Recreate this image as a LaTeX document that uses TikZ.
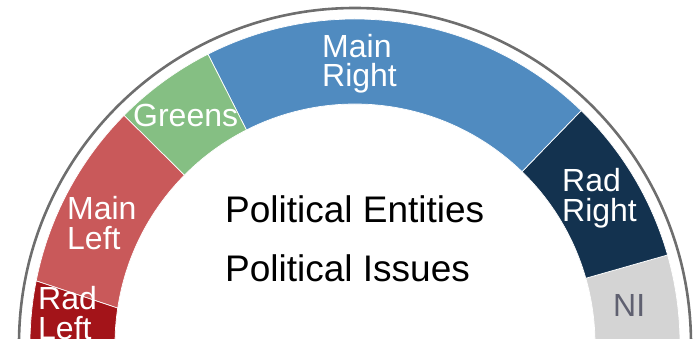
\documentclass[tikz,border=0pt]{standalone}
\usepackage{fontspec}
\setmainfont{Liberation Sans}
\usetikzlibrary{positioning}

\definecolor{radleft}{HTML}{A31419}
\definecolor{mainleft}{HTML}{C9595A}
\definecolor{greens}{HTML}{85BF83}
\definecolor{mainright}{HTML}{508BC0}
\definecolor{radright}{HTML}{13324F}
\definecolor{nonins}{HTML}{D4D4D4}
\definecolor{rim}{HTML}{6E6E6E}
\definecolor{nitext}{HTML}{5F6070}

\begin{document}
\begin{tikzpicture}[x=1pt, y=1pt,
  band/.style={draw=white, line width=0.7pt},
  lbl/.style={anchor=base west, align=left, inner sep=0pt, text=white, font=\fontsize{32}{30}\selectfont},
  title/.style={anchor=base west, inner sep=0pt, font=\fontsize{37}{44}\selectfont}
]
  \useasboundingbox (-355,5) rectangle (341,344);
  \clip (-355,5) rectangle (341,344);

  % Outer rim
  \draw[rim, line width=2.6pt] (0:336) arc[start angle=0, end angle=180, radius=336];

  % Segments (right to left)
  \filldraw[band, fill=nonins] (0:325) arc[start angle=0, end angle=15.9, radius=325]
    -- (15.9:240) arc[start angle=15.9, end angle=0, radius=240] -- cycle;
  \filldraw[band, fill=radright] (15.9:325) arc[start angle=15.9, end angle=45.9, radius=325]
    -- (45.9:240) arc[start angle=45.9, end angle=15.9, radius=240] -- cycle;
  \filldraw[band, fill=mainright] (45.9:325) arc[start angle=45.9, end angle=116.9, radius=325]
    -- (116.9:240) arc[start angle=116.9, end angle=45.9, radius=240] -- cycle;
  \filldraw[band, fill=greens] (116.9:325) arc[start angle=116.9, end angle=135.3, radius=325]
    -- (135.3:240) arc[start angle=135.3, end angle=116.9, radius=240] -- cycle;
  \filldraw[band, fill=mainleft] (135.3:325) arc[start angle=135.3, end angle=168.8, radius=325]
    -- (171.4:240) arc[start angle=171.4, end angle=135.3, radius=240] -- cycle;
  \filldraw[band, fill=radleft] (168.8:325) arc[start angle=168.8, end angle=180, radius=325]
    -- (180:240) arc[start angle=180, end angle=171.4, radius=240] -- cycle;

  % Party labels (base = last line)
  \node[lbl] (radl) at (-317,4) {Rad\\Left};
  \node[lbl] (mainl) at (-288,94) {Main\\Left};
  \node[lbl] (grn) at (-222,217) {Greens};
  \node[lbl, font=\fontsize{32}{29}\selectfont] (mainr) at (-33,257) {Main\\Right};
  \node[lbl] (radr) at (207,122) {Rad\\Right};
  \node[lbl, text=nitext] (ni) at (258,27) {NI};

  % Centre text
  \node[title] (entities) at (-130,121) {Political Entities};
  \node[title] (issues) at (-130,62) {Political Issues};
\end{tikzpicture}
\end{document}
